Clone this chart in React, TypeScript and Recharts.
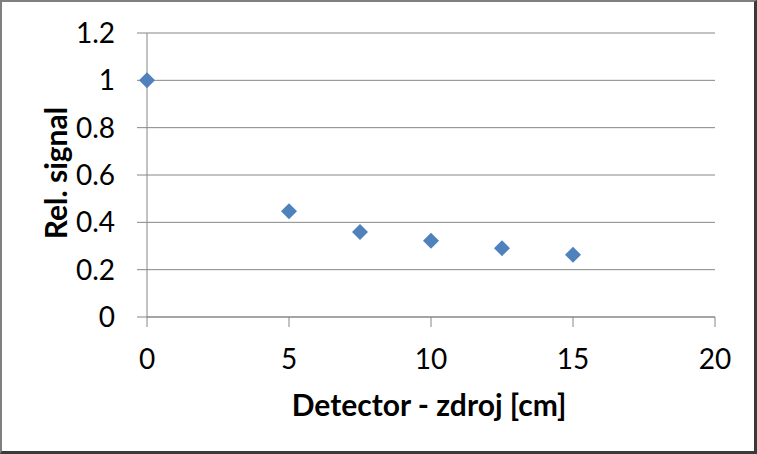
import { ScatterChart, Scatter, XAxis, YAxis, CartesianGrid, Label } from "recharts";

const distances = [0, 5, 7.5, 10, 12.5, 15];
const relSignal = [1.0, 0.447, 0.359, 0.322, 0.291, 0.263];
const xTicks = [0, 5, 10, 15, 20];
const yTicks = [0, 0.2, 0.4, 0.6, 0.8, 1, 1.2];

const data = distances.map((d, i) => ({ x: d, y: relSignal[i] }));

const FONT = "Lato, 'Open Sans', sans-serif";
const GREY = "#868686";

const Diamond = (props: any) => {
  const { cx, cy } = props;
  const r = 8;
  return (
    <polygon
      points={`${cx},${cy - r} ${cx + r},${cy} ${cx},${cy + r} ${cx - r},${cy}`}
      fill="#4F81BD"
    />
  );
};

export default function App() {
  return (
    <div style={{ position: "fixed", top: 0, left: 0, width: 757, height: 454, background: "#fff" }}>
      <ScatterChart width={757} height={454} margin={{ top: 33, right: 42, left: 0, bottom: 0 }}>
        <CartesianGrid vertical={false} stroke={GREY} strokeWidth={1} />
        <XAxis
          type="number"
          dataKey="x"
          domain={[0, 20]}
          ticks={xTicks}
          height={137}
          stroke={GREY}
          tickSize={10}
          tickMargin={22}
          tick={{ fill: "#000", fontSize: 28, fontFamily: FONT }}
        >
          <Label
            content={(p: any) => {
              const vb = p.viewBox;
              return (
                <text
                  x={vb.x + vb.width / 2 - 2}
                  y={416}
                  textAnchor="middle"
                  fontFamily={FONT}
                  fontWeight="bold"
                  fontSize={30}
                  fill="#000"
                >
                  Detector - zdroj [cm]
                </text>
              );
            }}
          />
        </XAxis>
        <YAxis
          type="number"
          dataKey="y"
          domain={[0, 1.2]}
          ticks={yTicks}
          width={147}
          stroke={GREY}
          tickSize={10}
          tickMargin={22}
          tick={{ fill: "#000", fontSize: 28, fontFamily: FONT }}
        >
          <Label
            content={(p: any) => {
              const vb = p.viewBox;
              const cy = vb.y + vb.height / 2 - 2;
              return (
                <text
                  x={67}
                  y={cy}
                  transform={`rotate(-90, 67, ${cy})`}
                  textAnchor="middle"
                  fontFamily={FONT}
                  fontWeight="bold"
                  fontSize={30}
                  fill="#000"
                >
                  Rel. signal
                </text>
              );
            }}
          />
        </YAxis>
        <Scatter data={data} shape={<Diamond />} isAnimationActive={false} />
      </ScatterChart>
      <div
        style={{
          position: "absolute",
          inset: 0,
          boxSizing: "border-box",
          borderTop: "2px solid #7f7f7f",
          borderLeft: "2px solid #7f7f7f",
          borderRight: "3px solid #3a3a3a",
          borderBottom: "3px solid #3a3a3a",
          pointerEvents: "none",
        }}
      />
    </div>
  );
}
